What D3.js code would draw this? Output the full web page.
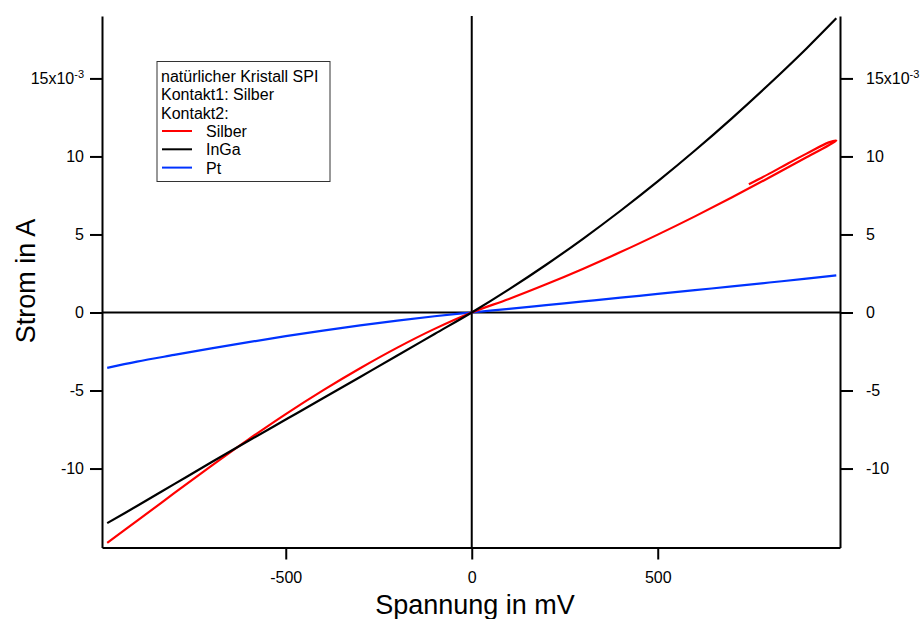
<!DOCTYPE html>
<html lang="en">
<head>
  <meta charset="utf-8">
  <script src="https://d3js.org/d3.v7.min.js"></script>
  <style>
    body { margin: 0; background: #fff; }
    text { font-family: "Liberation Sans", Arial, sans-serif; fill: #000; }
  </style>
</head>
<body>
  <div id="chart"></div>
  <script>
  const width = 923
  const height = 619

  // voltage grid in mV, current in mA (axis shows x10^-3 A)
  const voltage = [-980, -900, -800, -700, -600, -500, -400, -300, -200, -100, 0,
                   100, 200, 300, 400, 500, 600, 700, 800, 900, 980]
  const silberI = [-14.76, -13.36, -11.58, -9.83, -8.13, -6.51, -4.99, -3.57, -2.25, -1.05, 0,
                   0.87, 1.81, 2.81, 3.87, 4.99, 6.16, 7.38, 8.65, 9.95, 11.01]
  // Silber sweeps back a bit at the top end
  const silberBackV = [960, 900, 850, 800, 745]
  const silberBackI = [10.9, 10.18, 9.55, 8.9, 8.22]
  const ingaI = [-13.5, -12.4, -11.0, -9.6, -8.22, -6.86, -5.5, -4.13, -2.76, -1.38, 0,
                 1.48, 3.06, 4.74, 6.52, 8.4, 10.38, 12.46, 14.64, 16.92, 18.85]
  const ptI = [-3.55, -3.15, -2.72, -2.3, -1.9, -1.52, -1.16, -0.83, -0.52, -0.24, 0,
               0.23, 0.47, 0.71, 0.95, 1.19, 1.43, 1.67, 1.92, 2.17, 2.38]

  const xTicks = [-500, 0, 500]
  const yTicks = [-10, -5, 0, 5, 10, 15]
  const legendTitle = ["natürlicher Kristall SPI", "Kontakt1: Silber", "Kontakt2:"]
  const seriesNames = ["Silber", "InGa", "Pt"]
  const seriesColors = ["#ff0000", "#000000", "#0033ff"]

  const plotL = 102, plotR = 840, plotT = 16, plotB = 547.5

  const x = d3.scaleLinear().domain([-994, 990]).range([plotL, plotR])
  const y = d3.scaleLinear().domain([-15.06, 19.0]).range([plotB, plotT])

  const svg = d3.select("#chart").append("svg")
      .attr("width", width)
      .attr("height", height)

  // plain hyphen for negatives, like the original
  const fmt = d => String(d)

  ////////////////////////// series //////////////////////////
  const silber = voltage.map((v, i) => [v, silberI[i]])
    .concat(silberBackV.map((v, i) => [v, silberBackI[i]]))
  const inga = voltage.map((v, i) => [v, ingaI[i]])
  const pt = voltage.map((v, i) => [v, ptI[i]])
  const series = [silber, inga, pt]

  const line = d3.line()
      .x(d => x(d[0]))
      .y(d => y(d[1]))
      .curve(d3.curveCatmullRom.alpha(0.5))

  ////////////////////////// zero lines //////////////////////////
  svg.append("line")
      .attr("x1", plotL).attr("x2", plotR)
      .attr("y1", y(0)).attr("y2", y(0))
      .attr("stroke", "#000").attr("stroke-width", 2)
  svg.append("line")
      .attr("x1", x(0)).attr("x2", x(0))
      .attr("y1", plotT).attr("y2", plotB)
      .attr("stroke", "#000").attr("stroke-width", 2)

  // draw order: Pt, Silber, InGa on top
  ;[2, 0, 1].forEach(k => {
    svg.append("path")
        .datum(series[k])
        .attr("fill", "none")
        .attr("stroke", seriesColors[k])
        .attr("stroke-width", 2.2)
        .attr("stroke-linejoin", "round")
        .attr("d", line)
  })

  ////////////////////////// axes //////////////////////////
  function yLabel(sel) {
    sel.selectAll(".tick text").each(function(d) {
      const t = d3.select(this)
      if (d === 15) {
        t.text("15x10")
        t.append("tspan").attr("dy", "-0.55em").attr("font-size", "11px").text("-3")
      }
    })
  }

  function styleAxis(g) {
    g.select(".domain").attr("stroke-width", 2).attr("stroke", "#000")
    g.selectAll(".tick line").attr("stroke-width", 2).attr("stroke", "#000")
    g.selectAll(".tick text").attr("font-size", "16px")
      .attr("font-family", "'Liberation Sans', Arial, sans-serif")
  }

  svg.append("g")
      .attr("transform", `translate(${plotL},0)`)
      .call(d3.axisLeft(y).tickValues(yTicks).tickSize(12).tickSizeOuter(0).tickPadding(6).tickFormat(fmt))
      .call(styleAxis)
      .call(yLabel)

  svg.append("g")
      .attr("transform", `translate(${plotR},0)`)
      .call(d3.axisRight(y).tickValues(yTicks).tickSize(13).tickSizeOuter(0).tickPadding(13).tickFormat(fmt))
      .call(styleAxis)
      .call(yLabel)

  svg.append("g")
      .attr("transform", `translate(0,${plotB})`)
      .call(d3.axisBottom(x).tickValues(xTicks).tickSize(12).tickSizeOuter(0).tickPadding(12).tickFormat(fmt))
      .call(styleAxis)

  svg.selectAll(".tick text").attr("fill", "#000")

  ////////////////////////// titles //////////////////////////
  svg.append("text")
      .attr("x", (plotL + plotR) / 2 + 4)
      .attr("y", 614)
      .attr("text-anchor", "middle")
      .attr("font-size", "27px")
      .text("Spannung in mV")

  svg.append("text")
      .attr("transform", "translate(35,281) rotate(-90)")
      .attr("text-anchor", "middle")
      .attr("font-size", "27px")
      .text("Strom in A")

  ////////////////////////// legend //////////////////////////
  const lg = svg.append("g")
  lg.append("rect")
      .attr("x", 157).attr("y", 61.5)
      .attr("width", 173).attr("height", 120)
      .attr("fill", "#fff").attr("stroke", "#333").attr("stroke-width", 1)

  legendTitle.forEach((t, i) => {
    lg.append("text")
        .attr("x", 161).attr("y", 82 + i * 18.3)
        .attr("font-size", "16px")
        .text(t)
  })
  seriesNames.forEach((t, i) => {
    const yy = 131 + i * 18.3
    lg.append("line")
        .attr("x1", 162).attr("x2", 192)
        .attr("y1", yy).attr("y2", yy)
        .attr("stroke", seriesColors[i]).attr("stroke-width", 2)
    lg.append("text")
        .attr("x", 206).attr("y", 137 + i * 18.3)
        .attr("font-size", "16px")
        .text(t)
  })
  </script>
</body>
</html>
